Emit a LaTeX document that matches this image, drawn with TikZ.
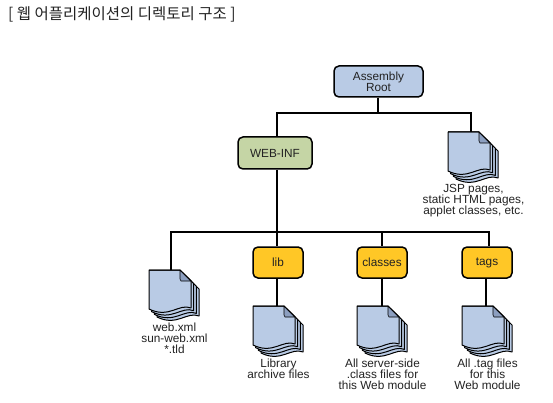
\documentclass[tikz,border=0pt]{standalone}
\usepackage{fontspec}
\setmainfont{Liberation Sans}
\newfontfamily\cjk{Noto Sans CJK KR}
\usepackage{tikz}
\usetikzlibrary{positioning}
\definecolor{rootblue}{HTML}{B9CBE5}
\definecolor{foldblue}{HTML}{8C9FC0}
\definecolor{webgreen}{HTML}{C5D5A5}
\definecolor{diryellow}{HTML}{FFC726}
\definecolor{inktext}{HTML}{222222}

\newcommand{\docicon}[2]{
  \node[docbox] (#1) at (#2) {};
  \begin{scope}[shift={(#1.north west)}]
    \foreach \d in {8,5.4,2.7,0} {
      \draw[sheet] (\d,\d) -- (31+\d,\d) -- (42+\d,11+\d) -- (42+\d,38+\d) .. controls (30+\d,33+\d) and (20+\d,49+\d) .. (\d,39+\d) -- cycle;
    }
    \draw[sheet, fill=foldblue, line width=0.6pt] (31,0) -- (31,9) -- (32,11) -- (42,11) -- cycle;
    \draw[sheet, fill=none] (0,0) -- (31,0) -- (42,11);
  \end{scope}
}

\begin{document}
\begin{tikzpicture}[
  x=1pt, y=-1pt,
  box/.style={draw=black, rounded corners=5pt, line width=1.5pt, minimum height=31pt, inner sep=0pt, align=center, text=inktext, font=\fontsize{11.8}{11}\selectfont},
  dirbox/.style={box, fill=diryellow, minimum width=50pt},
  docbox/.style={inner sep=0pt, outer sep=0pt, minimum width=51pt, minimum height=47pt},
  sheet/.style={draw=black, fill=rootblue, line width=1pt, line join=round},
  doctext/.style={inner sep=0pt, align=center, text=inktext, font=\fontsize{11.8}{11}\selectfont},
  wire/.style={draw=black, line width=1.5pt}
]
\useasboundingbox (0,0) rectangle (553,403);

\node[anchor=west, inner sep=0pt, text=inktext, font=\cjk\fontsize{15.5}{17}\selectfont] (title) at (8,14) {[ 웹 어플리케이션의 디렉토리 구조 ]};

\node[box, fill=rootblue, minimum width=89pt] (root) at (378.5,81.5) {Assembly\\Root};
\node[box, fill=webgreen, minimum width=74pt, minimum height=32pt] (webinf) at (275,153) {WEB-INF};
\node[dirbox] (lib) at (278,262.5) {lib};
\node[dirbox] (classes) at (382,262.5) {classes};
\node[dirbox] (tags) at (487,262.5) {tags};

\docicon{jspdoc}{473.5,155.5}
\docicon{webdoc}{174.5,293.5}
\docicon{libdoc}{278.5,329.5}
\docicon{classdoc}{382.5,329.5}
\docicon{tagdoc}{487.5,329.5}

\node[doctext, below=5.5pt of jspdoc] (jsptext) {JSP pages,\\static HTML pages,\\applet classes, etc.};
\node[doctext, below=5.5pt of webdoc] (webtext) {web.xml\\sun-web.xml\\*.tld};
\node[doctext, below=5.5pt of libdoc] (libtext) {Library\\archive files};
\node[doctext, below=5.5pt of classdoc] (classtext) {All server-side\\.class files for\\this Web module};
\node[doctext, below=5.5pt of tagdoc] (tagtext) {All .tag files\\for this\\Web module};

\coordinate (rootbus) at (378,113);
\coordinate (webbus) at (277,232);

\draw[wire] (root.south -| rootbus) -- (rootbus);
\draw[wire] ([xshift=2pt]webinf.north) |- (rootbus) -| ([xshift=-2.5pt]jspdoc.north);
\draw[wire] ([xshift=2pt]webinf.south) -- (webbus);
\draw[wire] ([xshift=-3.5pt]webdoc.north) |- (webbus) -| ([xshift=2pt]tags.north);
\draw[wire] (webbus) -- ([xshift=-1pt]lib.north);
\draw[wire] (webbus -| classes.north) -- (classes.north);
\draw[wire] ([xshift=-1pt]lib.south) -- ([xshift=-1pt]lib.south |- libdoc.north);
\draw[wire] (classes.south) -- (classes.south |- classdoc.north);
\draw[wire] ([xshift=-1pt]tags.south) -- ([xshift=-1pt]tags.south |- tagdoc.north);

\end{tikzpicture}
\end{document}
